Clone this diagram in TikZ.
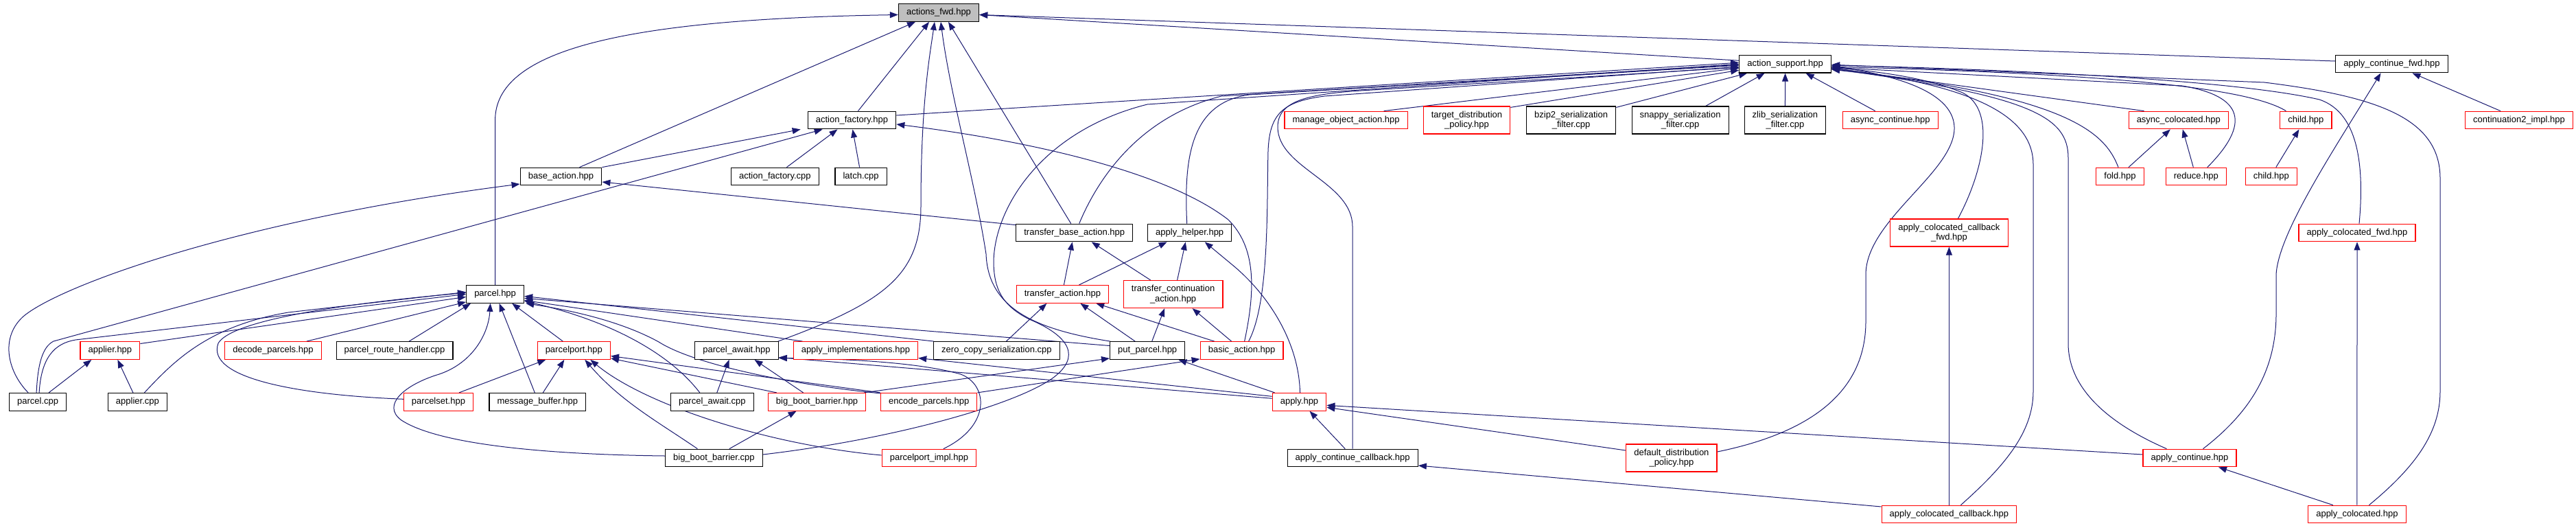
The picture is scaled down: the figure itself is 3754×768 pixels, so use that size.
\documentclass[tikz,border=0pt]{standalone}
\usepackage{fontspec}
\setmainfont{Liberation Sans}
\usepackage{tikz}
\usetikzlibrary{arrows.meta,calc,backgrounds}
\definecolor{edg}{HTML}{191970}
\definecolor{cur}{HTML}{BFBFBF}
\newcommand{\fn}{\fontsize{6.5}{7.2}\selectfont}
\tikzset{
  box/.style={draw=black,line width=0.6pt,fill=white,align=center,inner xsep=5.8pt,inner ysep=0pt,minimum height=12.8pt,font=\fn},
  rbox/.style={box,draw=red},
  cbox/.style={box,fill=cur},
  tall/.style={minimum height=20pt},
  ar/.style={-{Triangle[length=6pt,width=4.5pt]},line width=0.5pt,draw=edg},
}

\begin{document}
\begin{tikzpicture}[x=0.5pt,y=-0.5pt]
\useasboundingbox (0,0) rectangle (3754,768);
% rows, top to bottom
\node[cbox] (af) at (1368,18.5) {actions\_fwd.hpp};
\node[box] (as) at (2601.6,93.2) {action\_support.hpp};
\node[box] (acf) at (3485.5,93) {apply\_continue\_fwd.hpp};
\node[box] (afac) at (1241.5,175) {action\_factory.hpp};
\node[rbox] (moa) at (1961.6,175) {manage\_object\_action.hpp};
\node[rbox,tall] (tdp) at (2137.5,175) {target\_distribution\\\_policy.hpp};
\node[box,tall] (bzip) at (2289.6,175) {bzip2\_serialization\\\_filter.cpp};
\node[box,tall] (snappy) at (2448.6,175) {snappy\_serialization\\\_filter.cpp};
\node[box,tall] (zlib) at (2601.4,175) {zlib\_serialization\\\_filter.cpp};
\node[rbox] (asyncont) at (2754.7,175) {async\_continue.hpp};
\node[rbox] (asyncol) at (3174.8,175) {async\_colocated.hpp};
\node[rbox] (childa) at (3360.4,175) {child.hpp};
\node[rbox] (cont2) at (3671,175) {continuation2\_impl.hpp};
\node[box] (ba) at (817.5,257) {base\_action.hpp};
\node[box] (afcpp) at (1129.4,257) {action\_factory.cpp};
\node[box] (latch) at (1254.6,257) {latch.cpp};
\node[rbox] (fold) at (3089.5,257) {fold.hpp};
\node[rbox] (reduce) at (3200.3,257) {reduce.hpp};
\node[rbox] (childb) at (3309.8,257) {child.hpp};
\node[box] (tba) at (1565.7,339) {transfer\_base\_action.hpp};
\node[box] (ah) at (1733.7,339) {apply\_helper.hpp};
\node[rbox,tall] (accfwd) at (2840.4,339) {apply\_colocated\_callback\\\_fwd.hpp};
\node[rbox] (acfwd) at (3435,339) {apply\_colocated\_fwd.hpp};
\node[box] (ph) at (721.6,428.4) {parcel.hpp};
\node[rbox] (ta) at (1548.4,428.4) {transfer\_action.hpp};
\node[rbox,tall] (tca) at (1709.6,428.5) {transfer\_continuation\\\_action.hpp};
\node[rbox] (applierh) at (160.4,510.5) {applier.hpp};
\node[rbox] (decode) at (398,510.5) {decode\_parcels.hpp};
\node[box] (prh) at (575.1,510.5) {parcel\_route\_handler.cpp};
\node[rbox] (pp) at (836.3,510.5) {parcelport.hpp};
\node[box] (pah) at (1073.5,510.5) {parcel\_await.hpp};
\node[rbox] (ai) at (1246.9,510.5) {apply\_implementations.hpp};
\node[box] (zc) at (1452.4,510.5) {zero\_copy\_serialization.cpp};
\node[box] (put) at (1672.2,510.5) {put\_parcel.hpp};
\node[rbox] (bah) at (1809.6,510.5) {basic\_action.hpp};
\node[box] (pcpp) at (55.1,585.3) {parcel.cpp};
\node[box] (appliercpp) at (200.4,585.3) {applier.cpp};
\node[rbox] (pset) at (639,585.3) {parcelset.hpp};
\node[box] (mb) at (783.3,585.3) {message\_buffer.hpp};
\node[box] (pacpp) at (1037.8,585.3) {parcel\_await.cpp};
\node[rbox] (bbbh) at (1190.6,585.3) {big\_boot\_barrier.hpp};
\node[rbox] (enc) at (1353.7,585.3) {encode\_parcels.hpp};
\node[rbox] (apply) at (1893.5,585.3) {apply.hpp};
\node[box] (bbbcpp) at (1040.4,667) {big\_boot\_barrier.cpp};
\node[rbox] (ppi) at (1353.9,667) {parcelport\_impl.hpp};
\node[box] (acccb) at (1971.2,667) {apply\_continue\_callback.hpp};
\node[rbox,tall] (ddp) at (2435.9,667) {default\_distribution\\\_policy.hpp};
\node[rbox] (acont) at (3191,667) {apply\_continue.hpp};
\node[rbox] (acolcb) at (2840.4,749) {apply\_colocated\_callback.hpp};
\node[rbox] (acol) at (3434.9,749) {apply\_colocated.hpp};

\begin{scope}[on background layer]
% into actions_fwd
\draw[ar] (ph.north) -- (721.6,175) .. controls (721.6,75) and (900,28) .. ($(af.west)+(0,3)$);
\draw[ar] ($(ba.north)+(27,0)$) -- ($(af.south)+(-34,0)$);
\draw[ar] ($(afac.north)+(9,0)$) -- ($(af.south)+(-14,0)$);
\draw[ar] ($(pah.north east)+(-1,0)$) .. controls (1290,440) and (1342,400) .. (1342,300) .. controls (1342,150) and (1355,80) .. ($(af.south)+(-6,0)$);
\draw[ar] ($(put.north west)+(1,0)$) .. controls (1510,480) and (1440,450) .. (1437,370) .. controls (1420,260) and (1385,140) .. ($(af.south)+(3,0)$);
\draw[ar] ($(tba.north)+(-5,0)$) -- ($(af.south)+(14,0)$);
\draw[ar] ($(as.west)+(0,-5)$) -- ($(af.east)+(0,3)$);
\draw[ar] ($(acf.west)+(0,-4)$) -- ($(af.east)+(0,3)$);
% into action_factory and base_action
\draw[ar] (ba.north east) -- ($(afac.south west)+(-10,0)$);
\draw[ar] ($(afcpp.north)+(17,0)$) -- ($(afac.south)+(-21,0)$);
\draw[ar] ($(latch.north)+(-2,0)$) -- ($(afac.south)+(1,0)$);
\draw[ar] ($(tba.north west)+(0,2)$) -- ($(ba.east)+(0,8)$);
\draw[ar] ($(bah.north)+(4,0)$) .. controls (1830,420) and (1830,360) .. (1790,320) .. controls (1700,250) and (1500,205) .. ($(afac.east)+(0,6)$);
% into action_support, left side
\draw[ar] ($(afac.east)+(0,-7)$) -- ($(as.west)+(0,-2)$);
\draw[ar] ($(bbbcpp.east)+(0,-5)$) .. controls (1300,640) and (1480,590) .. (1535,550) .. controls (1575,520) and (1560,490) .. (1500,465) .. controls (1460,445) and (1448,420) .. (1448,380) .. controls (1450,300) and (1520,190) .. (1672,152) -- ($(as.west)+(0,0)$);
\draw[ar] ($(tba.north)+(7,0)$) .. controls (1600,260) and (1660,170) .. (1780,140) -- ($(as.west)+(0,1)$);
\draw[ar] ($(ah.north)+(-4,0)$) .. controls (1725,230) and (1735,150) .. (1820,138) -- ($(as.west)+(0,2)$);
\draw[ar] ($(bah.north)+(10,0)$) .. controls (1850,440) and (1846,300) .. (1848,220) .. controls (1850,165) and (1870,148) .. (1930,140) -- ($(as.west)+(0,4)$);
\draw[ar] (acccb.north) -- (1971,330) .. controls (1971,265) and (1862,245) .. (1862,185) .. controls (1862,145) and (1910,136) .. (2000,131) -- ($(as.west)+(0,5)$);
\draw[ar] ($(moa.north)+(55,0)$) -- ($(as.west)+(0,6)$);
\draw[ar] ($(tdp.north east)+(0,2)$) -- ($(as.west)+(0,9)$);
\draw[ar] ($(bzip.north east)+(0,2)$) -- ($(as.south west)+(12,0)$);
\draw[ar] ($(snappy.north east)+(-34,0)$) -- ($(as.south)+(-30,0)$);
\draw[ar] (zlib) -- (as);
\draw[ar] ($(asyncont.north)+(-22,0)$) -- ($(as.south)+(30,0)$);
% into action_support, right side
\draw[ar] ($(ddp.east)+(0,-9)$) .. controls (2640,630) and (2718,570) .. (2719,470) -- (2719,400) .. controls (2719,320) and (2850,250) .. (2848,185) .. controls (2846,130) and (2750,108) .. ($(as.east)+(0,3)$);
\draw[ar] ($(accfwd.north)+(13,0)$) .. controls (2890,250) and (2910,160) .. (2860,135) .. controls (2800,110) and (2720,103) .. ($(as.east)+(0,5)$);
\draw[ar] ($(acolcb.north)+(17,0)$) .. controls (2920,680) and (2963,630) .. (2963,570) -- (2963,240) .. controls (2963,170) and (2880,125) .. ($(as.east)+(0,6)$);
\draw[ar] ($(acont.north west)+(35,0)$) .. controls (3080,620) and (3014,570) .. (3014,500) -- (3014,230) .. controls (3014,170) and (2960,140) .. ($(as.east)+(0,7)$);
\draw[ar] ($(fold.north)+(-2.5,0)$) .. controls (3068,195) and (3020,140) .. ($(as.east)+(0,8)$);
\draw[ar] ($(asyncol.north west)+(23,0)$) -- ($(as.east)+(0,6)$);
\draw[ar] ($(reduce.north)+(16.5,0)$) .. controls (3280,180) and (3270,140) .. (3180,125) -- ($(as.east)+(0,5)$);
\draw[ar] ($(childa.north)+(-29,0)$) .. controls (3280,130) and (3100,108) .. ($(as.east)+(0,4)$);
\draw[ar] ($(acfwd.north)+(3,0)$) .. controls (3445,250) and (3440,165) .. (3380,145) .. controls (3250,115) and (2900,100) .. ($(as.east)+(0,2)$);
\draw[ar] ($(acol.north)+(17.5,0)$) .. controls (3520,680) and (3556,630) .. (3556,570) -- (3556,260) .. controls (3556,170) and (3460,140) .. (3300,120) -- ($(as.east)+(0,1)$);
% right part
\draw[ar] ($(cont2.north)+(-27,0)$) -- ($(acf.south)+(30,0)$);
\draw[ar] ($(acont.north)+(19.5,0)$) .. controls (3280,600) and (3316,540) .. (3317,460) -- (3317,400) .. controls (3320,340) and (3400,220) .. ($(acf.south)+(-16,0)$);
\draw[ar] ($(fold.north)+(12.5,0)$) -- ($(asyncol.south)+(-12,0)$);
\draw[ar] ($(reduce.north)+(-4,0)$) -- ($(asyncol.south)+(6,0)$);
\draw[ar] ($(childb.north)+(7,0)$) -- ($(childa.south)+(-10,0)$);
\draw[ar] (acolcb) -- (accfwd);
\draw[ar] (acol) -- (acfwd);
\draw[ar] ($(acol.north)+(-35,0)$) -- ($(acont.south)+(42,0)$);
\draw[ar] ($(acolcb.west)+(0,-11)$) -- ($(acccb.east)+(0,11)$);
\draw[ar] ($(acccb.north)+(-11,0)$) -- ($(apply.south)+(15,0)$);
\draw[ar] ($(acont.west)+(0,-5)$) -- ($(apply.east)+(0,5)$);
\draw[ar] ($(ddp.west)+(0,-11)$) -- ($(apply.east)+(0,8)$);
% transfer actions and apply_helper
\draw[ar] ($(ta.north)+(2,0)$) -- ($(tba.south)+(-3,0)$);
\draw[ar] ($(ta.north)+(24,0)$) -- ($(ah.south)+(-33,0)$);
\draw[ar] ($(tca.north)+(-33,0)$) -- ($(tba.south)+(25,0)$);
\draw[ar] ($(tca.north)+(6,0)$) -- ($(ah.south)+(-6,0)$);
\draw[ar] ($(apply.north)+(1,0)$) .. controls (1893,500) and (1850,430) .. (1795,385) -- ($(ah.south)+(22,0)$);
\draw[ar] ($(put.north)+(-18,0)$) -- ($(ta.south)+(26,0)$);
\draw[ar] ($(put.north)+(6.5,0)$) -- ($(tca.south)+(-12.5,0)$);
\draw[ar] ($(bah.north west)+(21,0)$) -- ($(ta.south east)+(-19,0)$);
\draw[ar] ($(bah.north)+(-15,0)$) -- ($(tca.south)+(28,0)$);
\draw[ar] ($(zc.north)+(14,0)$) -- ($(ta.south)+(-23,0)$);
% parcel side
\draw[ar] ($(pcpp.north)+(-14,0)$) .. controls (10,540) and (0,490) .. (35,460) .. controls (90,415) and (350,320) .. ($(ba.west)+(0,11)$);
\draw[ar] ($(pcpp.north)+(-2,0)$) .. controls (55,530) and (62,505) .. (78,497) -- ($(afac.south west)+(22,0)$);
\draw[ar] ($(pcpp.north)+(2,0)$) .. controls (60,520) and (80,500) .. (110,495) -- ($(ph.west)+(0,0)$);
\draw[ar] ($(pcpp.north)+(16,0)$) -- ($(applierh.south west)+(17,0)$);
\draw[ar] ($(appliercpp.north)+(-6.5,0)$) -- ($(applierh.south)+(11,0)$);
\draw[ar] ($(appliercpp.north)+(10,0)$) .. controls (250,530) and (300,475) .. (420,455) -- ($(ph.west)+(0,-3)$);
\draw[ar] ($(applierh.east)+(0,-10)$) -- ($(ph.west)+(0,4)$);
\draw[ar] ($(decode.north east)+(-22,0)$) -- ($(ph.south west)+(0,-2)$);
\draw[ar] ($(prh.north)+(21,0)$) -- ($(ph.south west)+(7,0)$);
\draw[ar] ($(pset.west)+(0,-4)$) .. controls (430,575) and (300,550) .. (318,500) .. controls (335,470) and (470,445) .. ($(ph.west)+(0,-2)$);
\draw[ar] ($(pset.north)+(30,0)$) -- ($(pp.south)+(-41,0)$);
\draw[ar] ($(mb.north)+(-4,0)$) -- ($(ph.south)+(6,0)$);
\draw[ar] ($(mb.north)+(8,0)$) -- ($(pp.south)+(-14,0)$);
\draw[ar] ($(pp.north)+(-16,0)$) -- ($(ph.south east)+(-18,0)$);
\draw[ar] ($(bbbcpp.west)+(0,-3)$) .. controls (800,662) and (640,648) .. (585,612) .. controls (555,590) and (590,560) .. (640,545) .. controls (690,528) and (712,485) .. ($(ph.south)+(-7,0)$);
\draw[ar] ($(bbbcpp.north)+(-24,0)$) .. controls (960,615) and (905,585) .. ($(pp.south)+(16,0)$);
\draw[ar] ($(ppi.west)+(0,-4)$) .. controls (1120,648) and (940,590) .. ($(pp.south)+(24,0)$);
\draw[ar] ($(bbbcpp.north)+(22.5,0)$) -- ($(bbbh.south)+(-30,0)$);
\draw[ar] ($(pacpp.north)+(-18,0)$) .. controls (980,520) and (900,470) .. ($(ph.east)+(0,10)$);
\draw[ar] ($(pacpp.north)+(7,0)$) -- ($(pah.south)+(-11,0)$);
\draw[ar] ($(bbbh.north)+(-20,0)$) -- ($(pah.south)+(26,0)$);
\draw[ar] ($(bbbh.north west)+(13,0)$) -- ($(pp.south east)+(0,-2)$);
\draw[ar] ($(enc.north west)+(0,0)$) -- ($(pp.east)+(0,8)$);
\draw[ar] ($(enc.north west)+(0,1)$) .. controls (1150,560) and (1010,530) .. (960,498) .. controls (900,465) and (820,450) .. ($(ph.south east)+(2,0)$);
\draw[ar] ($(zc.north west)+(1,0)$) -- ($(ph.east)+(0,3)$);
\draw[ar] ($(put.west)+(0,-7)$) -- ($(ph.east)+(0,6)$);
\draw[ar] ($(ai.north west)+(14,0)$) -- ($(ph.east)+(0,9)$);
\draw[ar] ($(ppi.north)+(21,0)$) .. controls (1445,620) and (1440,560) .. (1400,545) .. controls (1330,525) and (1200,522) .. ($(pah.east)+(0,11)$);
\draw[ar] ($(apply.west)+(0,-5)$) -- ($(pah.east)+(0,10)$);
\draw[ar] ($(apply.west)+(0,-8)$) -- ($(ai.east)+(0,11)$);
\draw[ar] ($(apply.north west)+(4,0)$) -- ($(put.south east)+(-10,0)$);
\draw[ar] ($(bbbh.north east)+(-3,0)$) -- ($(put.south west)+(0,-2)$);
\draw[ar] (enc.north east) -- ($(bah.south west)+(0,-1)$);
\end{scope}
\end{tikzpicture}
\end{document}
